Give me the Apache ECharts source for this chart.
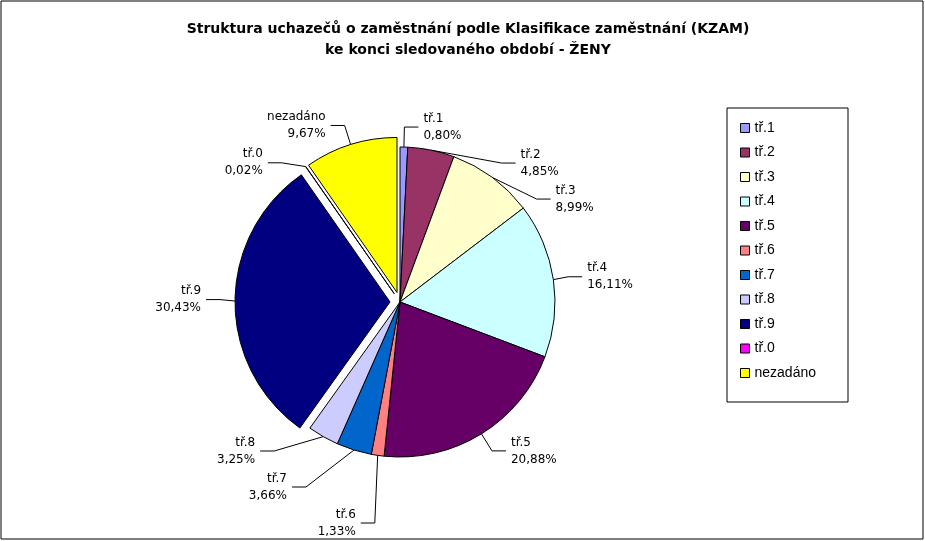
<!DOCTYPE html>
<html><head><meta charset="utf-8">
<script src="https://cdn.jsdelivr.net/npm/echarts@6/dist/echarts.min.js"></script>
<style>html,body{margin:0;background:#fff}#c{width:925px;height:541px}</style>
</head><body><div id="c"></div>
<script>
const categories = ["tř.1","tř.2","tř.3","tř.4","tř.5","tř.6","tř.7","tř.8","tř.9","tř.0","nezadáno"];
const values = [0.80,4.85,8.99,16.11,20.88,1.33,3.66,3.25,30.43,0.02,9.67];
const colors = ["#9999FF","#993366","#FFFFCC","#CCFFFF","#660066","#FF8080","#0066CC","#CCCCFF","#000080","#FF00FF","#FFFF00"];
const exploded = ["tř.9","tř.0","nezadáno"];
const chart = echarts.init(document.getElementById('c'));
const fmt = v => v.toFixed(2).replace('.', ',') + '%';
chart.setOption({
  backgroundColor:'#fff',
  animation:false,
  title:{text:'Struktura uchazečů o zaměstnání podle Klasifikace zaměstnání (KZAM)\nke konci sledovaného období - ŽENY',
    left:463,textAlign:'center',top:14,
    textStyle:{fontFamily:'DejaVu Sans',fontSize:14,fontWeight:'bold',color:'#000',lineHeight:21}},
  graphic:[{type:'rect',shape:{x:1,y:1,width:922,height:538},style:{fill:'none',stroke:'#000',lineWidth:1}},
           {type:'rect',shape:{x:727,y:108,width:121,height:294},style:{fill:'none',stroke:'#000',lineWidth:1}}],
  legend:{orient:'vertical',left:735,top:116,itemWidth:9,itemHeight:9,itemGap:10.5,icon:'rect',
    data:categories,textStyle:{fontFamily:'Liberation Sans, Arial',fontSize:14,color:'#000'},
    itemStyle:{borderColor:'#000',borderWidth:1}},
  series:[{type:'pie',center:[400,302],radius:155,startAngle:90,clockwise:true,
    selectedMode:'multiple',selectedOffset:10,
    itemStyle:{borderColor:'#000',borderWidth:1},
    label:{color:'#000',fontFamily:'DejaVu Sans',fontSize:12,lineHeight:17,
      formatter:p=>p.name+'\n'+fmt(p.value)},
    labelLine:{show:true,length:20,length2:14,lineStyle:{color:'#000',width:1}},
    data:categories.map((n,i)=>({name:n,value:values[i],selected:exploded.includes(n),
      itemStyle:{color:colors[i]}}))
  }]
});
</script></body></html>
